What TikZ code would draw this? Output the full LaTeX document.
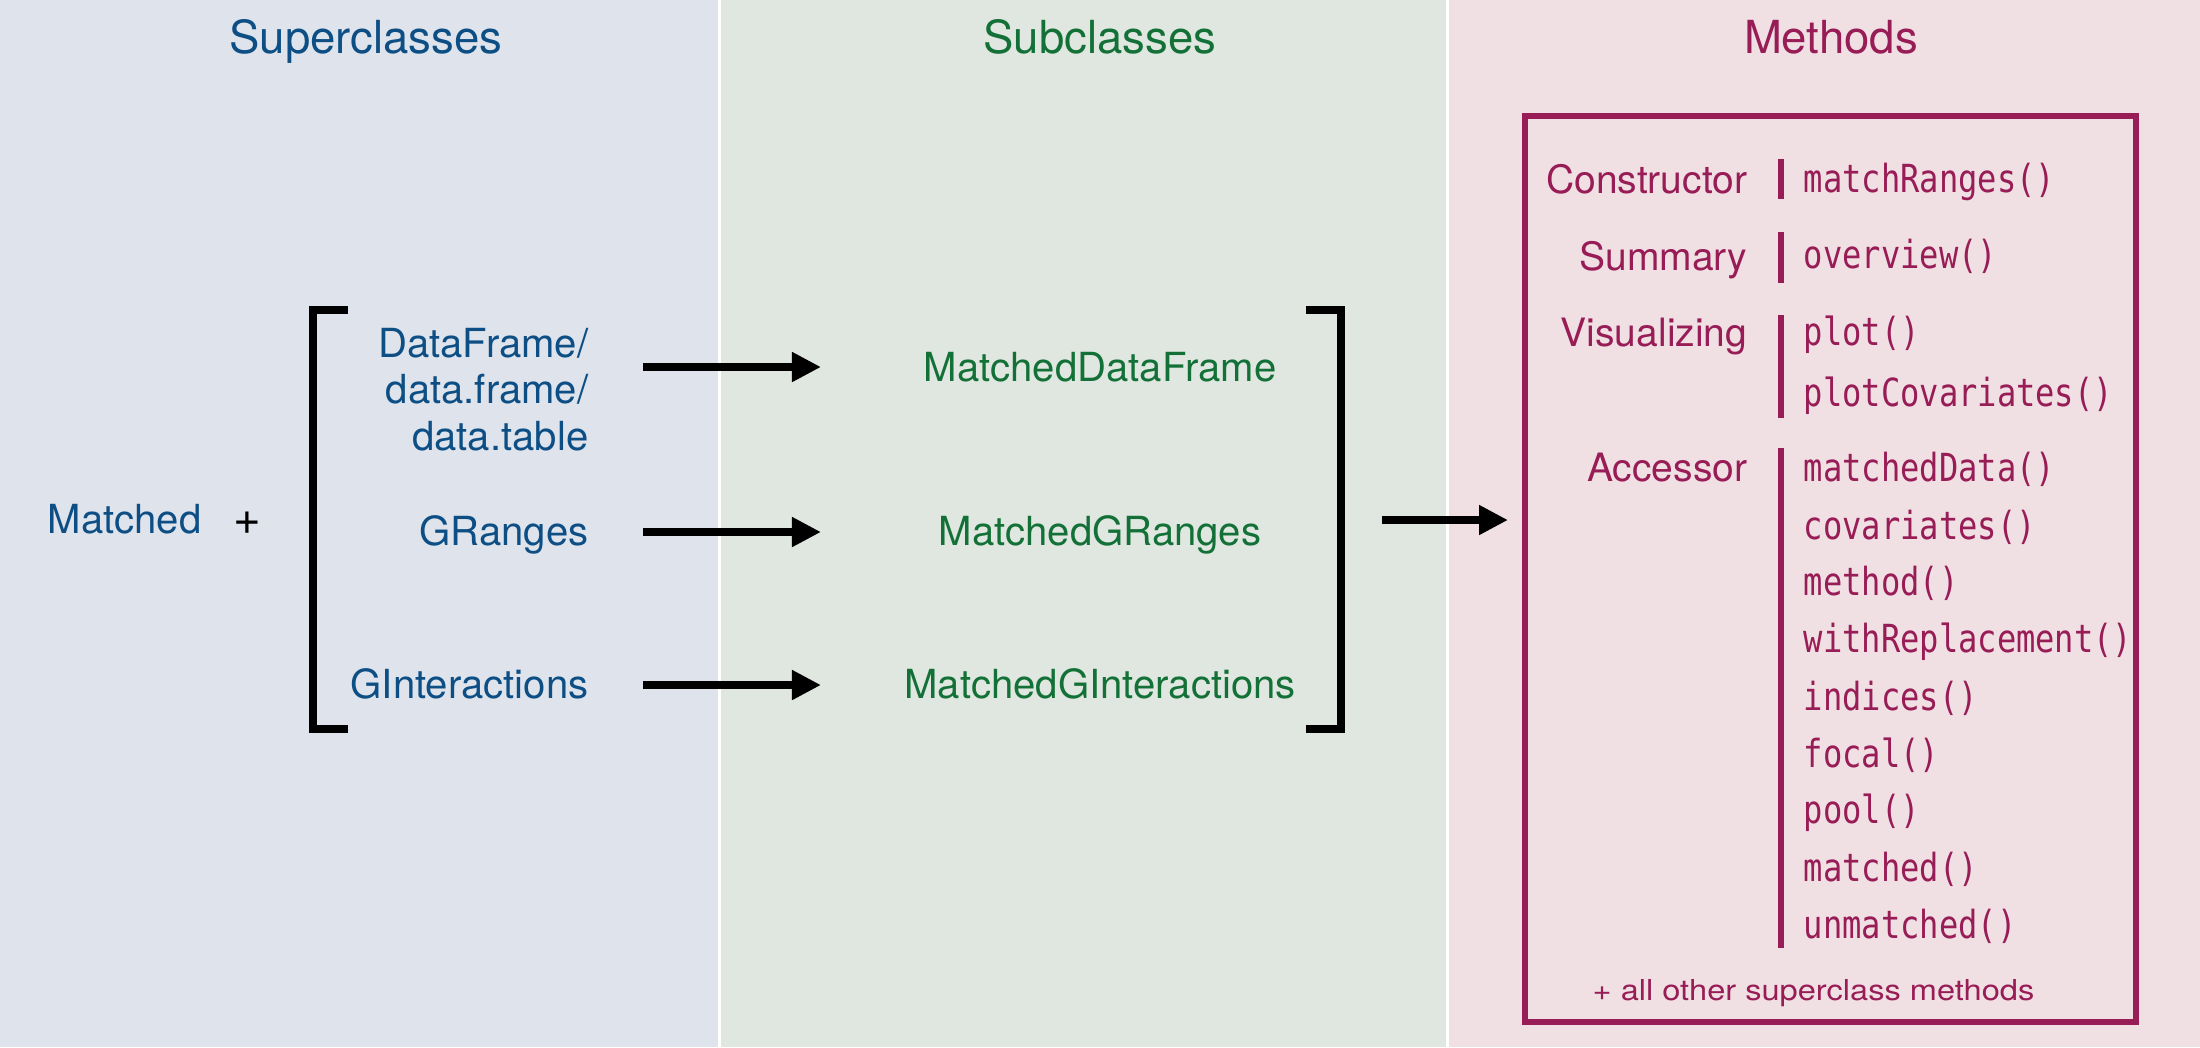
\documentclass[tikz,border=0pt]{standalone}
\usepackage{fontspec}
\setmainfont{TeX Gyre Heros}
\newfontfamily\monof[FakeStretch=0.83]{DejaVu Sans Mono}
\newfontfamily\widef[FakeStretch=1.13]{TeX Gyre Heros}
\usetikzlibrary{arrows.meta}
\definecolor{supblue}{HTML}{0D4F85}
\definecolor{subgreen}{HTML}{137138}
\definecolor{methmag}{HTML}{981C55}
\definecolor{bgsup}{HTML}{DFE3EB}
\definecolor{bgsub}{HTML}{E0E7E0}
\definecolor{bgmeth}{HTML}{F0E0E4}
\tikzset{
  hdr/.style={inner sep=0pt, anchor=base, font=\fontsize{12.95}{15}\selectfont},
  txt/.style={inner sep=0pt, font=\fontsize{11.4}{13.29}\selectfont},
  suptxt/.style={txt, anchor=base east, text=supblue},
  subtxt/.style={txt, anchor=base, text=subgreen},
  labtxt/.style={inner sep=0pt, anchor=base east, text=methmag, font=\fontsize{11.1}{13}\selectfont},
  methtxt/.style={inner sep=0pt, anchor=base west, text=methmag, font=\monof\fontsize{11}{13}\selectfont},
  arr/.style={line width=2.1pt, -{Triangle[length=8.25pt,width=8pt]}},
  brk/.style={line width=2.05pt},
  bar/.style={line width=1.9pt, methmag},
}
\begin{document}
\begin{tikzpicture}[x=0.01cm, y=-0.01cm]
\useasboundingbox (0,0) rectangle (2200,1047);
% panels
\fill[white] (0,0) rectangle (2200,1047);
\fill[bgsup] (0,0) rectangle (717.5,1047);
\fill[bgsub] (720.5,0) rectangle (1445.5,1047);
\fill[bgmeth] (1448.5,0) rectangle (2200,1047);
% headers
\node[hdr, text=supblue] (hsup) at (366,53) {Superclasses};
\node[hdr, text=subgreen] (hsub) at (1100,53) {Subclasses};
\node[hdr, text=methmag] (hmeth) at (1831,53) {Methods};
% left side
\node[txt, anchor=base west, text=supblue] (matched) at (47,533) {Matched};
\node[inner sep=0pt, anchor=base, font=\fontsize{13.5}{15}\selectfont] (plus) at (247,534) {+};
\node[suptxt] (df) at (589,357) {\begin{tabular}[t]{@{}r@{}}DataFrame/\\data.frame/\\data.table\end{tabular}};
\node[suptxt] (gr) at (589,545) {GRanges};
\node[suptxt] (gi) at (589,698) {GInteractions};
% brackets
\draw[brk] (348,310) -- (313,310) -- (313,729) -- (348,729);
\draw[brk] (1306,310) -- (1341,310) -- (1341,729) -- (1306,729);
% subclasses
\node[subtxt] (mdf) at (1100,381) {MatchedDataFrame};
\node[subtxt] (mgr) at (1100,545) {MatchedGRanges};
\node[subtxt] (mgi) at (1100,698) {MatchedGInteractions};
% arrows
\coordinate (s1) at (643,367); \coordinate (e1) at (821,367);
\coordinate (s2) at (643,532); \coordinate (e2) at (821,532);
\coordinate (s3) at (643,685); \coordinate (e3) at (821,685);
\coordinate (s4) at (1382,520); \coordinate (e4) at (1508,520);
\draw[arr] (s1) -- (e1);
\draw[arr] (s2) -- (e2);
\draw[arr] (s3) -- (e3);
\draw[arr] (s4) -- (e4);
% methods box
\draw[methmag, line width=1.7pt] (1525,115.5) rectangle (2135.5,1021.5);
\node[labtxt] (lcon) at (1748,193) {Constructor};
\node[labtxt] (lsum) at (1748,270) {Summary};
\node[labtxt] (lvis) at (1748,346) {Visualizing};
\node[labtxt] (lacc) at (1748,481) {Accessor};
\draw[bar] (1781,159) -- (1781,199);
\draw[bar] (1781,232) -- (1781,283);
\draw[bar] (1781,315) -- (1781,418);
\draw[bar] (1781,448) -- (1781,948);
\node[methtxt] (m1) at (1803,192) {matchRanges()};
\node[methtxt] (m2) at (1803,268) {overview()};
\node[methtxt] (m3) at (1803,345) {plot()};
\node[methtxt] (m4) at (1803,406) {plotCovariates()};
\node[methtxt] (m5) at (1803,481) {matchedData()};
\node[methtxt] (m6) at (1803,539) {covariates()};
\node[methtxt] (m7) at (1803,595) {method()};
\node[methtxt] (m8) at (1803,652) {withReplacement()};
\node[methtxt] (m9) at (1803,710) {indices()};
\node[methtxt] (m10) at (1803,767) {focal()};
\node[methtxt] (m11) at (1803,823) {pool()};
\node[methtxt] (m12) at (1803,881) {matched()};
\node[methtxt] (m13) at (1803,938) {unmatched()};
\node[inner sep=0pt, anchor=base west, text=methmag, font=\widef\fontsize{8.2}{10}\selectfont] (foot) at (1592,1000) {+ all other superclass methods};
\end{tikzpicture}
\end{document}
